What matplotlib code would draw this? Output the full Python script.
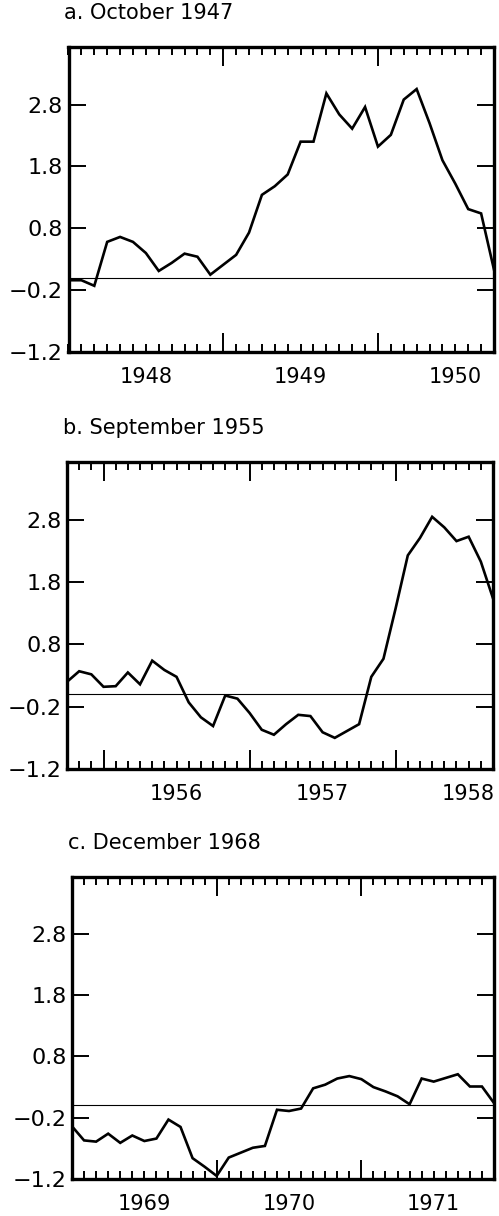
import numpy as np
from matplotlib import pyplot as plt

plt.rcParams['font.family'] = 'DejaVu Sans'

# panel titles and the first month of each monthly series (fractional year)
titles = ['a. October 1947', 'b. September 1955', 'c. December 1968']
starts = [1948.0, 1955.75, 1969.0]

# monthly values
vals_a = [-0.04, -0.04, -0.13, 0.58, 0.66, 0.58, 0.40, 0.11, 0.24, 0.39,
          0.34, 0.05, 0.21, 0.37, 0.73, 1.34, 1.48, 1.67, 2.20, 2.20,
          2.98, 2.64, 2.41, 2.76, 2.12, 2.31, 2.88, 3.05, 2.50, 1.90,
          1.52, 1.11, 1.04, 0.13]
vals_b = [0.20, 0.37, 0.32, 0.12, 0.13, 0.35, 0.16, 0.54, 0.39, 0.28,
          -0.13, -0.37, -0.51, -0.02, -0.07, -0.30, -0.57, -0.65, -0.48, -0.33,
          -0.35, -0.61, -0.70, -0.59, -0.48, 0.28, 0.57, 1.38, 2.23, 2.51,
          2.85, 2.68, 2.46, 2.53, 2.13, 1.54]
vals_c = [-0.34, -0.57, -0.59, -0.46, -0.61, -0.49, -0.58, -0.54, -0.23, -0.35,
          -0.86, -1.00, -1.15, -0.85, -0.77, -0.69, -0.66, -0.07, -0.09, -0.05,
          0.28, 0.34, 0.44, 0.48, 0.43, 0.30, 0.23, 0.15, 0.02, 0.44,
          0.39, 0.45, 0.51, 0.31, 0.31, 0.04]
series = [vals_a, vals_b, vals_c]

yticks = [-1.2, -0.2, 0.8, 1.8, 2.8]
ytick_labels = ['\u22121.2', '\u22120.2', '0.8', '1.8', '2.8']

fig = plt.figure(figsize=(4.99, 12.16), dpi=100)
W, H = 499.0, 1216.0
# axes boxes in pixels: left, top, right, bottom
boxes = [(68.5, 47, 494, 352), (67, 462, 493, 769), (72, 877, 494, 1179)]

for box, title, start, vals in zip(boxes, titles, starts, series):
    l, t, r, b = box
    ax = fig.add_axes([l / W, 1 - b / H, (r - l) / W, (b - t) / H])
    x = start + np.arange(len(vals)) / 12.0
    ax.plot(x, vals, color='black', lw=1.9, solid_joinstyle='miter')
    ax.axhline(0, color='black', lw=0.8)

    ax.set_xlim(x[0], x[-1])
    ax.set_ylim(-1.2, 3.73)

    # long ticks at year starts inside the axes, short ticks every month
    years = np.arange(np.floor(x[0]) + 1, x[-1] - 1e-6, 1.0)
    months = np.arange(np.ceil(x[0] * 12 - 1e-6), x[-1] * 12 + 1e-6) / 12.0
    ax.set_xticks(years)
    ax.set_xticklabels([])
    ax.set_xticks(months, minor=True)
    ax.tick_params(axis='x', which='both', direction='in', top=True, bottom=True,
                   labelbottom=False, width=1.4)
    ax.tick_params(axis='x', which='major', length=14)
    ax.tick_params(axis='x', which='minor', length=6)

    ax.set_yticks(yticks)
    ax.set_yticklabels(ytick_labels)
    ax.tick_params(axis='y', direction='in', left=True, right=True, length=12,
                   width=1.4, labelsize=16, pad=4)

    for spine in ax.spines.values():
        spine.set_linewidth(2.4)

    # year labels centred in the middle of each year
    for yr in range(int(np.floor(x[0])), int(np.ceil(x[-1]))):
        mid = yr + 0.5
        if x[0] <= mid <= x[-1]:
            ax.annotate(str(yr), xy=(mid, 0), xycoords=('data', 'axes fraction'),
                        xytext=(0, -11), textcoords='offset points',
                        ha='center', va='top', fontsize=15)

    ax.annotate(title, xy=(0, 1), xycoords='axes fraction',
                xytext=(-3, 24.5), textcoords='offset points',
                ha='left', va='center', fontsize=15)

fig.savefig('out.png', dpi=100)
